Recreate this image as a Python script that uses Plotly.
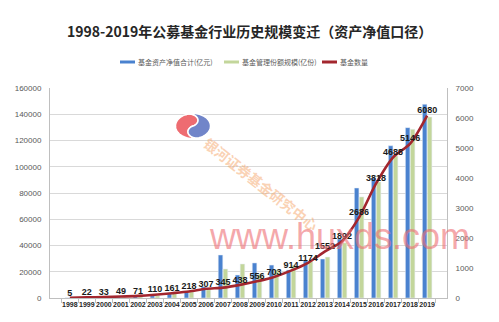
import numpy as np
import plotly.graph_objects as go

# Public fund industry scale, 1998-2019
years = [str(y) for y in range(1998, 2020)]
nav_total = [104, 574, 846, 818, 1331, 1715, 3246, 4691, 8565, 32756, 17500,
             26700, 25100, 21300, 28500, 29700, 45000, 83800, 91400, 116000,
             129800, 147600]          # 基金资产净值合计 (亿元)
share_total = [100, 505, 562, 803, 1320, 1615, 3309, 4714, 6220, 22100, 25900,
               18000, 21300, 25000, 28000, 31200, 42000, 77000, 88400, 108200,
               128500, 137900]        # 基金管理份额规模 (亿份)
fund_count = [5, 22, 33, 49, 71, 110, 161, 218, 307, 345, 438, 556, 703, 914,
              1174, 1552, 1892, 2686, 3818, 4688, 5146, 6080]  # 基金数量

left_ticks = list(range(0, 160001, 20000))
right_ticks = list(range(0, 7001, 1000))

W, H = 499, 322
L, R, T, B = 50, 52, 88, 24
PW, PH = W - L - R, H - T - B

BLUE = "#4a82cf"
GREEN = "#c3d69b"
RED = "#a3262e"
CJK = "Noto Sans CJK SC"


def px(x, y):
    """Pixel position -> paper coordinates."""
    return (x - L) / PW, (H - B - y) / PH


fig = go.Figure()
fig.add_trace(go.Bar(x=years, y=nav_total, name="基金资产净值合计(亿元)",
                     marker_color=BLUE, showlegend=False))
fig.add_trace(go.Bar(x=years, y=share_total, name="基金管理份额规模(亿份)",
                     marker_color=GREEN, showlegend=False))
fig.add_trace(go.Scatter(
    x=years, y=fund_count, yaxis="y2", name="基金数量", mode="lines+text",
    line=dict(color=RED, width=2.6, shape="spline", smoothing=0.8),
    text=[str(v) for v in fund_count], textposition="top center",
    textfont=dict(family="Liberation Sans", size=9, color="#1a1a1a", weight=700),
    cliponaxis=False, showlegend=False))

shapes = []
annotations = []

# title
tx, ty = px(249, 31)
annotations.append(dict(
    text="1998-2019年公募基金行业历史规模变迁（资产净值口径）",
    xref="paper", yref="paper", x=tx, y=ty, showarrow=False,
    xanchor="center", yanchor="middle",
    font=dict(family=CJK, size=14, color="#262626", weight=700)))

# legend row
legend_items = [("基金资产净值合计(亿元)", BLUE, 120),
                ("基金管理份额规模(亿份)", GREEN, 224),
                ("基金数量", RED, 322)]
for label, col, x0 in legend_items:
    a0, yy = px(x0, 62)
    a1, _ = px(x0 + 15, 62)
    shapes.append(dict(type="line", xref="paper", yref="paper",
                       x0=a0, x1=a1, y0=yy, y1=yy,
                       line=dict(color=col, width=3)))
    lx, _ = px(x0 + 16, 62)
    annotations.append(dict(text=label, xref="paper", yref="paper", x=lx, y=yy,
                            xanchor="left", yanchor="middle", showarrow=False,
                            font=dict(family=CJK, size=7, color="#595959")))

# logo: swirl emblem
cx, cy, rx, ry = 193, 126, 17.5, 12.5
rot = np.deg2rad(115)


def emblem_path(upper):
    if upper:
        pts = [(np.cos(t), np.sin(t)) for t in np.linspace(np.pi, 0, 40)]
        pts += [(0.5 + 0.5 * np.cos(t), -0.5 * np.sin(t))
                for t in np.linspace(0, np.pi, 20)]
        pts += [(-0.5 + 0.5 * np.cos(t), 0.5 * np.sin(t))
                for t in np.linspace(0, np.pi, 20)]
    else:
        pts = [(np.cos(t), np.sin(t)) for t in np.linspace(0, -np.pi, 40)]
        pts += [(-0.5 + 0.5 * np.cos(t), 0.5 * np.sin(t))
                for t in np.linspace(np.pi, 0, 20)]
        pts += [(0.5 + 0.5 * np.cos(t), -0.5 * np.sin(t))
                for t in np.linspace(np.pi, 0, 20)]
    out = []
    for u, v in pts:
        ux = u * np.cos(rot) - v * np.sin(rot)
        vy = u * np.sin(rot) + v * np.cos(rot)
        ppx, ppy = px(cx + ux * rx, cy - vy * ry)
        out.append(f"{ppx:.5f},{ppy:.5f}")
    return "M " + " L ".join(out) + " Z"


shapes.append(dict(type="path", xref="paper", yref="paper",
                   path=emblem_path(True), fillcolor="rgba(236,92,98,0.9)",
                   line=dict(color="white", width=1.5), layer="above"))
shapes.append(dict(type="path", xref="paper", yref="paper",
                   path=emblem_path(False), fillcolor="rgba(88,112,192,0.85)",
                   line=dict(color="white", width=1.5), layer="above"))

# overlay marks
wx, wy = px(339, 236)
annotations.append(dict(text="www.huxds.com", xref="paper", yref="paper",
                        x=wx, y=wy, xanchor="center", yanchor="middle",
                        showarrow=False,
                        font=dict(family="Liberation Sans", size=36,
                                  color="rgba(238,110,115,0.6)")))
rx_, ry_ = px(261, 184)
annotations.append(dict(text="银河证券基金研究中心", xref="paper", yref="paper",
                        x=rx_, y=ry_, xanchor="center", yanchor="middle",
                        showarrow=False, textangle=38,
                        font=dict(family=CJK, size=14, weight=700,
                                  color="rgba(245,165,105,0.5)")))

fig.update_layout(
    width=W, height=H, margin=dict(l=L, r=R, t=T, b=B),
    paper_bgcolor="white", plot_bgcolor="white",
    barmode="group", bargap=0.42, bargroupgap=0.08,
    shapes=shapes, annotations=annotations, showlegend=False,
    xaxis=dict(type="category", showline=True, linecolor="#bfbfbf",
               ticks="outside", tickson="boundaries", ticklen=4,
               tickcolor="#bfbfbf", tickangle=0,
               tickfont=dict(family="Liberation Sans", size=7, color="#262626",
                             weight=700)),
    yaxis=dict(range=[0, 160000], tickvals=left_ticks,
               ticktext=[str(v) for v in left_ticks],
               showgrid=True, gridcolor="#d9d9d9", gridwidth=1,
               showline=True, linecolor="#bfbfbf", zeroline=False,
               ticks="", ticklabelstandoff=6,
               tickfont=dict(family="Liberation Sans", size=8, color="#595959")),
    yaxis2=dict(range=[0, 7000], tickvals=right_ticks,
                ticktext=[str(v) for v in right_ticks],
                overlaying="y", side="right", showgrid=False,
                showline=True, linecolor="#bfbfbf", zeroline=False,
                ticks="", ticklabelstandoff=6,
                tickfont=dict(family="Liberation Sans", size=8, color="#595959")),
)

fig.write_html("out.html")
